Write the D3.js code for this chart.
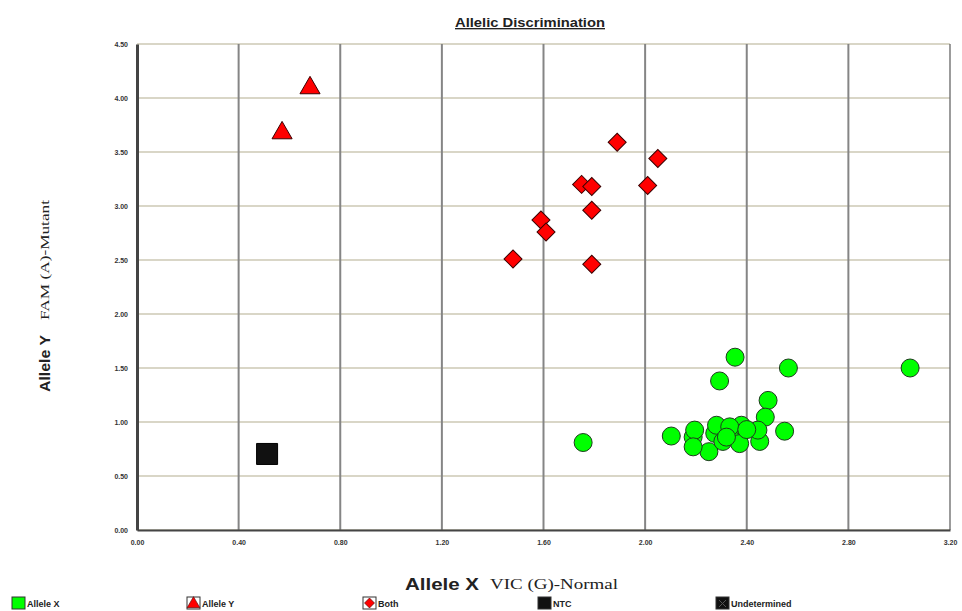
<!DOCTYPE html>
<html><head><meta charset="utf-8">
<script src="https://cdn.jsdelivr.net/npm/d3@7"></script>
<style>body{margin:0;background:#fff}svg{display:block}</style>
</head><body>
<script>
const title = "Allelic Discrimination";
const xTicks = [0, 0.4, 0.8, 1.2, 1.6, 2.0, 2.4, 2.8, 3.2];
const yTicks = [0, 0.5, 1.0, 1.5, 2.0, 2.5, 3.0, 3.5, 4.0, 4.5];
const alleleX = [
  [1.756,0.81],[2.354,1.60],[2.564,1.50],[2.293,1.38],[2.484,1.20],[2.473,1.045],
  [2.549,0.915],[2.103,0.87],[2.189,0.86],[2.195,0.925],[2.251,0.725],[2.189,0.77],
  [2.274,0.895],[2.281,0.97],[2.306,0.82],[2.366,0.91],[2.379,0.97],[2.372,0.80],
  [2.451,0.82],[2.444,0.925],[2.333,0.955],[2.32,0.86],[2.40,0.93],[3.043,1.50]
];
const alleleY = [[0.571,3.676],[0.681,4.093]];
const both = [
  [1.89,3.59],[2.05,3.44],[1.75,3.20],[1.79,3.18],[2.01,3.19],
  [1.79,2.96],[1.59,2.87],[1.61,2.76],[1.48,2.51],[1.79,2.46]
];
const ntc = [[0.512,0.704]];
const undetermined = [];
const legendItems = ["Allele X","Allele Y","Both","NTC","Undetermined"];

const W=962,H=611;
const svg=d3.select("body").append("svg").attr("width",W).attr("height",H);
const x=d3.scaleLinear().domain([0,3.2]).range([137,950]);
const y=d3.scaleLinear().domain([0,4.5]).range([530,44]);
const sans="Arial, 'Liberation Sans', sans-serif", serif="'Liberation Serif', 'Times New Roman', serif";

// horizontal grid
svg.append("g").selectAll("line").data(yTicks).join("line")
  .attr("x1",x(0)).attr("x2",x(3.2)).attr("y1",d=>y(d)).attr("y2",d=>y(d))
  .attr("stroke","#cdc9b4").attr("stroke-width",1.5);
// vertical grid
svg.append("g").selectAll("line").data(xTicks.filter(d=>d>0&&d<3.2)).join("line")
  .attr("x1",d=>x(d)).attr("x2",d=>x(d)).attr("y1",y(4.5)).attr("y2",y(0))
  .attr("stroke","#858585").attr("stroke-width",2);
// right border
svg.append("line").attr("x1",x(3.2)).attr("x2",x(3.2)).attr("y1",y(4.5)).attr("y2",y(0))
  .attr("stroke","#666").attr("stroke-width",1.3);

// axes
const xAxis=d3.axisBottom(x).tickValues(xTicks).tickFormat(d3.format(".2f")).tickSize(0).tickPadding(10);
const yAxis=d3.axisLeft(y).tickValues(yTicks).tickFormat(d3.format(".2f")).tickSize(0).tickPadding(9);
const gx=svg.append("g").attr("transform",`translate(0,${y(0)})`).call(xAxis);
const gy=svg.append("g").attr("transform",`translate(${x(0)},0)`).call(yAxis);
[gx,gy].forEach(g=>{
  g.select(".domain").attr("stroke","#444").attr("stroke-width",g===gy?3:2);
  g.selectAll("text").attr("font-family",sans)
   .attr("font-size",7).attr("font-weight","bold").attr("fill","#333");
});

// markers
svg.append("g").selectAll("circle").data(alleleX).join("circle")
  .attr("cx",d=>x(d[0])).attr("cy",d=>y(d[1])).attr("r",9)
  .attr("fill","#00ff00").attr("stroke","#1e3a1e").attr("stroke-width",1);
svg.append("g").selectAll("path").data(both).join("path")
  .attr("d",d3.symbol(d3.symbolSquare,162))
  .attr("transform",d=>`translate(${x(d[0])},${y(d[1])}) rotate(45)`)
  .attr("fill","#ff0000").attr("stroke","#3a0000").attr("stroke-width",1);
svg.append("g").selectAll("path").data(alleleY).join("path")
  .attr("d",d3.symbol(d3.symbolTriangle,175))
  .attr("transform",d=>`translate(${x(d[0])},${y(d[1])})`)
  .attr("fill","#ff0000").attr("stroke","#3a0000").attr("stroke-width",1);
svg.append("g").selectAll("path").data(ntc).join("path")
  .attr("d",d3.symbol(d3.symbolSquare,441))
  .attr("transform",d=>`translate(${x(d[0])},${y(d[1])})`)
  .attr("fill","#111").attr("stroke","#000");

// title
svg.append("text").attr("x",455).attr("y",27)
  .attr("font-family",sans).attr("font-size",13.5).attr("font-weight","bold")
  .attr("textLength",150).attr("lengthAdjust","spacingAndGlyphs")
  .attr("fill","#222").attr("text-decoration","underline").text(title);

// x label
svg.append("text").attr("x",405).attr("y",590).attr("fill","#222")
  .attr("font-family",sans).attr("font-size",16).attr("font-weight","bold")
  .attr("textLength",74).attr("lengthAdjust","spacingAndGlyphs").text("Allele X");
svg.append("text").attr("x",490).attr("y",589).attr("fill","#222")
  .attr("font-family",serif).attr("font-size",14)
  .attr("textLength",128).attr("lengthAdjust","spacingAndGlyphs").text("VIC (G)-Normal");
// y label
svg.append("text").attr("transform","translate(50,392) rotate(-90)").attr("fill","#222")
  .attr("font-family",sans).attr("font-size",15).attr("font-weight","bold")
  .attr("textLength",57).attr("lengthAdjust","spacingAndGlyphs").text("Allele Y");
svg.append("text").attr("transform","translate(49,320) rotate(-90)").attr("fill","#222")
  .attr("font-family",serif).attr("font-size",13)
  .attr("textLength",120).attr("lengthAdjust","spacingAndGlyphs").text("FAM (A)-Mutant");

// legend
const lx=[12,187,363,538,716];
const lg=svg.append("g").selectAll("g").data(legendItems).join("g")
  .attr("transform",(d,i)=>`translate(${lx[i]},603)`);
lg.append("rect").attr("x",0).attr("y",-6).attr("width",13).attr("height",12)
  .attr("fill",(d,i)=>i===0?"#00ff00":(i>=3?"#111":"#fff")).attr("stroke","#333").attr("stroke-width",1);
lg.filter((d,i)=>i===1).append("path").attr("d",d3.symbol(d3.symbolTriangle,70))
  .attr("transform","translate(6.5,1)").attr("fill","#ff0000").attr("stroke","#400").attr("stroke-width",0.6);
lg.filter((d,i)=>i===2).append("path").attr("d",d3.symbol(d3.symbolSquare,50))
  .attr("transform","translate(6.5,0) rotate(45)").attr("fill","#ff0000").attr("stroke","#400").attr("stroke-width",0.6);
lg.filter((d,i)=>i===4).append("path").attr("d","M3,-3L10,4M10,-3L3,4").attr("stroke","#555").attr("stroke-width",1);
lg.append("text").attr("x",15).attr("y",3.5)
  .attr("font-family",sans).attr("font-size",9).attr("font-weight","bold")
  .attr("fill","#222").text(d=>d);
</script>
</body></html>
